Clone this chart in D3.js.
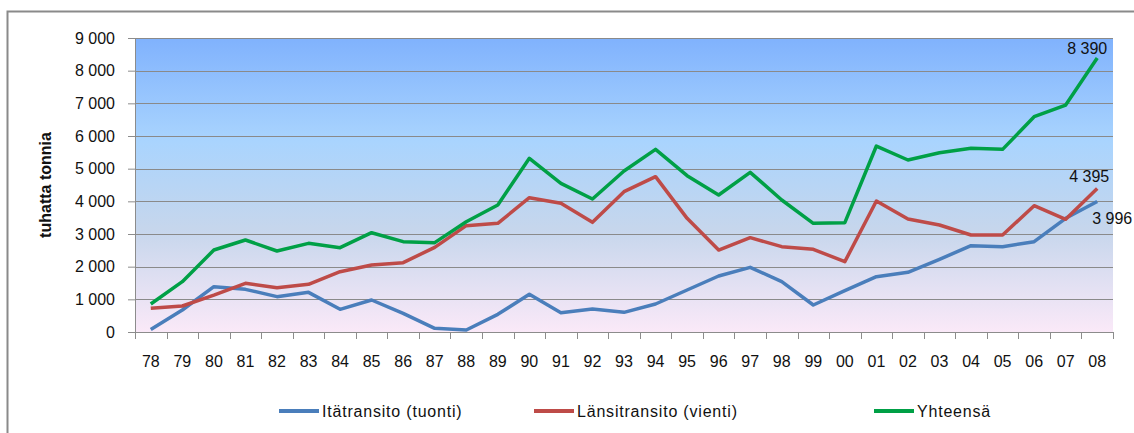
<!DOCTYPE html>
<html><head><meta charset="utf-8">
<script src="https://cdnjs.cloudflare.com/ajax/libs/d3/7.8.5/d3.min.js"></script>
<style>body{margin:0;background:#fff}svg{display:block}text{font-family:"Liberation Sans",Arial,sans-serif;fill:#111}</style>
</head><body><svg id="c" width="1134" height="433"></svg>
<script>
const years = ["78","79","80","81","82","83","84","85","86","87","88","89","90","91","92","93","94","95","96","97","98","99","00","01","02","03","04","05","06","07","08"];
const itatransito = [80,673,1387,1306,1082,1214,694,980,571,112,61,541,1153,592,704,602,857,1286,1714,1980,1540,826,1265,1694,1827,2224,2643,2612,2765,3480,3996];
const lansitransito = [725,796,1130,1490,1357,1459,1847,2051,2122,2592,3255,3326,4112,3939,3357,4296,4755,3480,2510,2888,2612,2531,2153,4010,3459,3275,2969,2969,3867,3449,4395];
const yhteensa = [857,1540,2510,2816,2479,2714,2581,3040,2765,2735,3377,3888,5316,4551,4071,4928,5591,4786,4193,4888,4040,3326,3346,5693,5265,5489,5622,5591,6591,6948,8390];
const yTicks = [0,1000,2000,3000,4000,5000,6000,7000,8000,9000];
const seriesNames = ["Itätransito (tuonti)","Länsitransito (vienti)","Yhteensä"];
const colors = ["#4a7ebb","#be4b48","#00a046"];

const svg = d3.select("#c");
const L=135, R=1113, T=38, B=332;
const x = d3.scaleBand().domain(years).range([L,R]);
const y = d3.scaleLinear().domain([0,9000]).range([B,T]);
const fmt = v => d3.format(",")(v).replace(/,/g," ");

// outer frame
svg.append("rect").attr("x",7.5).attr("y",11.5).attr("width",1300).attr("height",600)
  .attr("fill","none").attr("stroke","#8a8a8a").attr("stroke-width",2);

// gradient
const defs = svg.append("defs");
const g = defs.append("linearGradient").attr("id","bg").attr("x1",0).attr("y1",0).attr("x2",0).attr("y2",1);
[[0,"#80b2fd"],[0.35,"#a9d4fe"],[0.65,"#c6d6ec"],[1,"#fae9f8"]].forEach(s=>g.append("stop").attr("offset",s[0]).attr("stop-color",s[1]));
svg.append("rect").attr("x",L).attr("y",T).attr("width",R-L).attr("height",B-T).attr("fill","url(#bg)");

// gridlines
svg.append("g").selectAll("line").data(yTicks.filter(d=>d>0)).join("line")
  .attr("x1",L).attr("x2",R).attr("y1",d=>Math.round(y(d))+0.5).attr("y2",d=>Math.round(y(d))+0.5)
  .attr("stroke","#8a8a8a").attr("stroke-width",1.2);

// y axis
const ya = svg.append("g").attr("transform",`translate(${L},0)`)
  .call(d3.axisLeft(y).tickValues(yTicks).tickSize(7).tickPadding(13).tickFormat(fmt));
ya.select(".domain").attr("stroke","#8c8c8c");
ya.selectAll("line").attr("stroke","#8c8c8c");
ya.selectAll("text").attr("font-size",16).attr("font-family","Liberation Sans, Arial, sans-serif").attr("fill","#111");

// x axis
const xa = svg.append("g").attr("transform",`translate(0,${B})`)
  .call(d3.axisBottom(x).tickSize(0).tickPadding(24));
xa.select(".domain").attr("stroke","#8c8c8c");
xa.selectAll("text").attr("font-size",16).attr("font-family","Liberation Sans, Arial, sans-serif").attr("fill","#111");
const edges = years.map(d=>x(d)).concat([R]);
svg.append("g").selectAll("line").data(edges).join("line")
  .attr("x1",d=>Math.round(d)+0.5).attr("x2",d=>Math.round(d)+0.5).attr("y1",B).attr("y2",B+7)
  .attr("stroke","#8c8c8c");

// y title
svg.append("text").attr("transform","translate(51,185) rotate(-90)").attr("text-anchor","middle")
  .attr("font-size",16).attr("font-weight","bold").text("tuhatta tonnia");

// lines
const line = d3.line().x((d,i)=>x(years[i])+x.bandwidth()/2).y(d=>y(d));
[itatransito,lansitransito,yhteensa].forEach((s,i)=>{
  svg.append("path").datum(s).attr("d",line).attr("fill","none").attr("stroke",colors[i])
    .attr("stroke-width",3.5).attr("stroke-linejoin","round");
});

// data labels
const last = years[years.length-1], lx = x(last)+x.bandwidth()/2;
svg.append("text").attr("x",lx-10).attr("y",y(yhteensa[30])-4).attr("text-anchor","middle").attr("font-size",16).text(fmt(yhteensa[30]));
svg.append("text").attr("x",lx-8).attr("y",y(lansitransito[30])-6).attr("text-anchor","middle").attr("font-size",16).text(fmt(lansitransito[30]));
svg.append("text").attr("x",lx-5).attr("y",y(itatransito[30])+23).attr("text-anchor","start").attr("font-size",16).text(fmt(itatransito[30]));

// legend
const legX = [279,534,874];
seriesNames.forEach((n,i)=>{
  const lg = svg.append("g").attr("transform",`translate(${legX[i]},411)`);
  lg.append("line").attr("x1",0).attr("x2",40).attr("y1",0).attr("y2",0).attr("stroke",colors[i]).attr("stroke-width",4);
  lg.append("text").attr("x",43).attr("y",0).attr("dy","0.35em").attr("font-size",16).attr("letter-spacing",0.8).text(n);
});
</script></body></html>
